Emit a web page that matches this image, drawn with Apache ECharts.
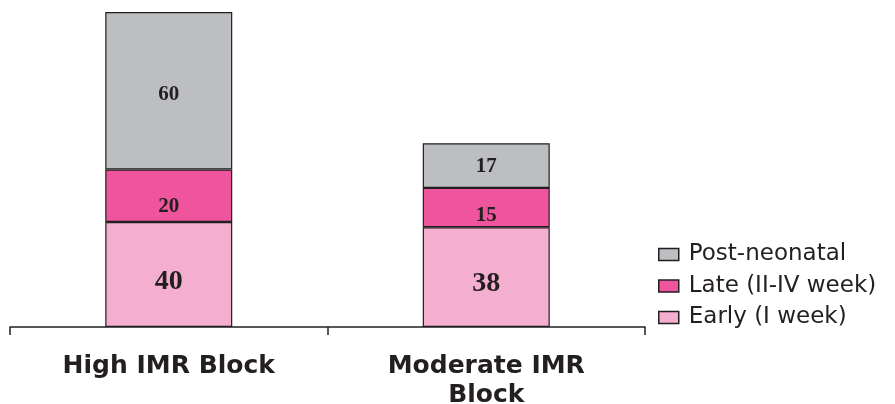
<!DOCTYPE html>
<html>
<head>
<meta charset="utf-8">
<script src="https://cdn.jsdelivr.net/npm/echarts@6/dist/echarts.min.js"></script>
<style>
html,body{margin:0;padding:0;background:#fff;}
#chart{width:895px;height:404px;}
</style>
</head>
<body>
<div id="chart"></div>
<script>
// categories and values
var categories = ['High IMR Block', 'Moderate IMR\nBlock'];
var early = [40, 38];
var late = [20, 15];
var postNeonatal = [60, 17];
var seriesNames = ['Early (I week)', 'Late (II-IV week)', 'Post-neonatal'];

var myChart = echarts.init(document.getElementById('chart'));

// 标签稍微偏下
function barSeries(name, data, color, fontSize, offsets) {
	return {
		name: name,
		type: 'bar',
		stack: 'total',
		barWidth: '40%',
		itemStyle: {
			color: color,
			borderColor: '#231f20',
			borderWidth: 1.2
		},
		label: {
			show: true,
			position: 'inside',
			fontFamily: '"Liberation Serif"',
			fontWeight: 'bold',
			fontSize: fontSize,
			color: '#231f20'
		},
		data: data.map(function (v, i) {
			return { value: v, label: { offset: [0, offsets[i]] } };
		})
	};
}

var option = {
	animation: false,
	grid: { left: 10, right: 250, top: 12, bottom: 77, outerBoundsMode: 'none', containLabel: false },
	legend: {
		orient: 'vertical',
		left: 653,
		top: 238,
		icon: 'rect',
		itemWidth: 20,
		itemHeight: 12,
		itemGap: 8.5,
		data: [seriesNames[2], seriesNames[1], seriesNames[0]],
		textStyle: { fontFamily: '"DejaVu Sans"', fontSize: 23, lineHeight: 22, color: '#231f20', padding: [0, 0, 0, 5] },
		itemStyle: { borderColor: '#231f20', borderWidth: 1.5 }
	},
	xAxis: {
		type: 'category',
		data: categories,
		axisLine: { lineStyle: { color: '#231f20', width: 1.5 } },
		axisTick: { show: true, length: 8, lineStyle: { color: '#231f20', width: 1.5 } },
		axisLabel: {
			margin: 25,
			fontFamily: '"DejaVu Sans"',
			fontWeight: 'bold',
			fontSize: 25,
			lineHeight: 29,
			color: '#231f20'
		}
	},
	yAxis: {
		type: 'value',
		min: 0,
		max: 120,
		show: false
	},
	series: [
		barSeries(seriesNames[0], early, '#f4aecf', 28, [7, 7]),
		barSeries(seriesNames[1], late, '#ee559c', 21, [11, 8]),
		barSeries(seriesNames[2], postNeonatal, '#bcbec2', 21, [4, 1])
	]
};
myChart.setOption(option);
</script>
</body>
</html>
